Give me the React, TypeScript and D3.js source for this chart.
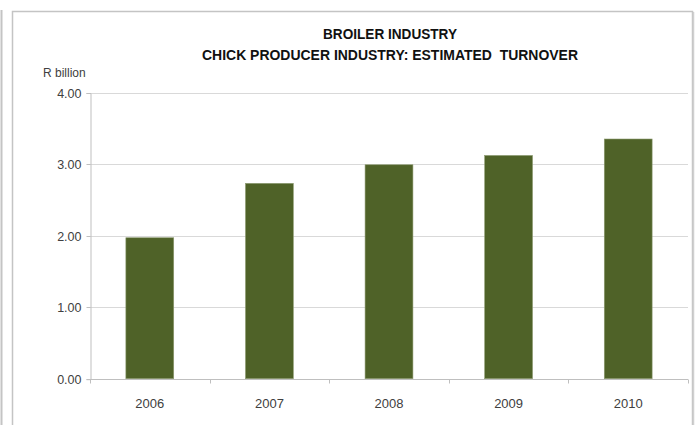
import React, { useRef, useEffect } from 'react';
import * as d3 from 'd3';

// Chart data.
const years = ['2006', '2007', '2008', '2009', '2010'];
const turnover = [1.97, 2.73, 2.99, 3.12, 3.35];
const yTicks = [0, 1, 2, 3, 4];
const titleLines = ['BROILER INDUSTRY', 'CHICK PRODUCER INDUSTRY: ESTIMATED  TURNOVER'];
const yUnit = 'R billion';

const App = () => {
  const ref = useRef<SVGSVGElement>(null);

  useEffect(() => {
    const width = 696;
    const height = 425;
    const font = '"Liberation Sans", Arial, sans-serif';

    const svg = d3.select(ref.current);
    svg.selectAll('*').remove();
    svg.attr('width', width).attr('height', height);

    // Page edge line and the chart frame (its bottom runs off the picture).
    svg.append('line')
      .attr('x1', 1.5).attr('x2', 1.5)
      .attr('y1', 10).attr('y2', height)
      .attr('stroke', '#c4c4c4')
      .attr('stroke-width', 2);

    svg.append('rect')
      .attr('x', 12.5).attr('y', 11.5)
      .attr('width', 680).attr('height', 430)
      .attr('fill', '#fff')
      .attr('stroke', '#c4c4c4')
      .attr('stroke-width', 1.5);

    svg.append('line')
      .attr('x1', 693.5).attr('x2', 693.5)
      .attr('y1', 12).attr('y2', height)
      .attr('stroke', '#d0d0d0')
      .attr('stroke-width', 1.5);

    // Plot area.
    const left = 90;
    const right = 688;
    const top = 92.5;
    const bottom = 378.7;

    const x = d3.scaleBand()
      .domain(years)
      .range([left, right])
      .paddingInner(0.6)
      .paddingOuter(0.3);

    const y = d3.scaleLinear().domain([0, 4]).range([bottom, top]);

    // Horizontal gridlines.
    svg.append('g')
      .selectAll('line')
      .data(yTicks.filter(t => t > 0))
      .join('line')
      .attr('x1', left).attr('x2', right)
      .attr('y1', d => Math.round(y(d)) + 0.5)
      .attr('y2', d => Math.round(y(d)) + 0.5)
      .attr('stroke', '#d9d9d9')
      .attr('stroke-width', 1);

    // Y axis.
    const yAxis = svg.append('g')
      .attr('transform', `translate(${left + 0.5},0.5)`)
      .call(d3.axisLeft(y).tickValues(yTicks).tickFormat(d3.format('.2f')).tickSize(4).tickPadding(5));
    yAxis.select('.domain').attr('stroke', '#bfbfbf');
    yAxis.selectAll('.tick line').attr('stroke', '#bfbfbf');
    yAxis.selectAll('.tick text')
      .attr('fill', '#404040')
      .attr('font-family', font)
      .attr('font-size', 12.5);
    yAxis.selectAll('.tick').attr('transform', (d: any) => `translate(0,${Math.round(y(d))})`);

    // Bars.
    svg.append('g')
      .selectAll('rect')
      .data(years)
      .join('rect')
      .attr('x', d => x(d)!)
      .attr('y', (d, i) => y(turnover[i]))
      .attr('width', x.bandwidth())
      .attr('height', (d, i) => bottom - y(turnover[i]))
      .attr('fill', '#4f6228')
      .attr('stroke', '#8c9a70')
      .attr('stroke-width', 0.6);

    // X axis with ticks at category boundaries.
    const xg = svg.append('g').attr('transform', `translate(0,${Math.round(bottom) + 0.5})`);
    xg.append('line')
      .attr('x1', left).attr('x2', right)
      .attr('stroke', '#bfbfbf');
    const step = x.step();
    xg.selectAll('line.tk')
      .data(d3.range(years.length + 1))
      .join('line')
      .attr('class', 'tk')
      .attr('x1', i => Math.round(left + i * step) + 0.5)
      .attr('x2', i => Math.round(left + i * step) + 0.5)
      .attr('y1', 0).attr('y2', 4)
      .attr('stroke', '#bfbfbf');
    xg.selectAll('text')
      .data(years)
      .join('text')
      .attr('x', d => x(d)! + x.bandwidth() / 2)
      .attr('y', 28)
      .attr('text-anchor', 'middle')
      .attr('fill', '#404040')
      .attr('font-family', font)
      .attr('font-size', 13)
      .text(d => d);

    // Unit label.
    svg.append('text')
      .attr('x', 43).attr('y', 76.5)
      .attr('fill', '#404040')
      .attr('font-family', font)
      .attr('font-size', 12)
      .text(yUnit);

    // Title.
    const titleWidths = [134, 376];
    svg.append('g')
      .selectAll('text')
      .data(titleLines)
      .join('text')
      .attr('x', 390)
      .attr('y', (d, i) => 38.5 + i * 21)
      .attr('text-anchor', 'middle')
      .attr('font-family', font)
      .attr('font-weight', 'bold')
      .attr('font-size', 14.5)
      .attr('fill', '#111')
      .attr('textLength', (d, i) => titleWidths[i])
      .attr('lengthAdjust', 'spacingAndGlyphs')
      .style('white-space', 'pre')
      .text(d => d);
  }, []);

  return <svg ref={ref} style={{ position: 'absolute', left: 0, top: 0 }}></svg>;
};

export default App;
